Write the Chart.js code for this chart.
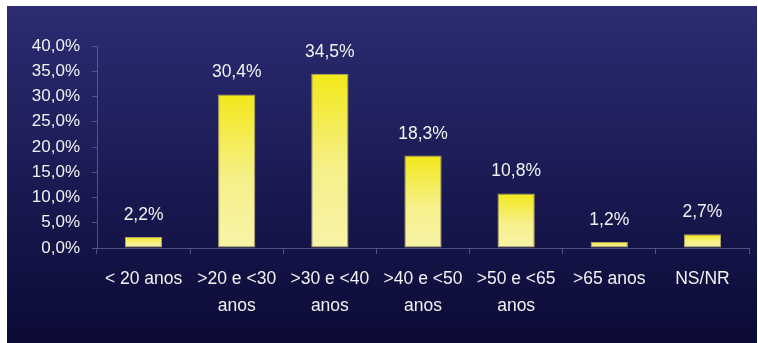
<!DOCTYPE html>
<html>
<head>
<meta charset="utf-8">
<script src="https://cdn.jsdelivr.net/npm/chart.js@4/dist/chart.umd.min.js"></script>
<style>
html,body{margin:0;padding:0;background:#fff;}
#wrap{width:758px;height:343px;position:relative;}
</style>
</head>
<body>
<div id="wrap"><canvas id="c" width="758" height="343"></canvas></div>
<script>
const categories = [["< 20 anos"], [">20 e <30", "anos"], [">30 e <40", "anos"], [">40 e <50", "anos"], [">50 e <65", "anos"], [">65 anos"], ["NS/NR"]];
const values = [2.2, 30.4, 34.5, 18.3, 10.8, 1.2, 2.7];
const yTicks = [0, 5, 10, 15, 20, 25, 30, 35, 40];

const FONT = "'Liberation Sans', Arial, sans-serif";
const fmt = v => v.toFixed(1).replace('.', ',') + '%';

const bgPlugin = {
  id: 'bg',
  beforeDraw(chart) {
    const ctx = chart.ctx;
    ctx.save();
    ctx.fillStyle = '#ffffff';
    ctx.fillRect(0, 0, chart.width, chart.height);
    const g = ctx.createLinearGradient(0, 6, 0, 343);
    g.addColorStop(0, '#2b2c72');
    g.addColorStop(1, '#0b0a36');
    ctx.fillStyle = g;
    ctx.fillRect(7, 6, 750, 337);
    ctx.restore();
  }
};

const labelPlugin = {
  id: 'vlabels',
  afterDatasetsDraw(chart) {
    const ctx = chart.ctx;
    const meta = chart.getDatasetMeta(0);
    ctx.save();
    ctx.font = '17.5px ' + FONT;
    ctx.fillStyle = '#f2f2f2';
    ctx.textAlign = 'center';
    ctx.textBaseline = 'alphabetic';
    meta.data.forEach((bar, i) => {
      ctx.fillText(fmt(values[i]), bar.x, bar.y - 17);
    });
    ctx.restore();
  }
};

new Chart(document.getElementById('c'), {
  type: 'bar',
  data: {
    labels: categories,
    datasets: [{
      data: values,
      backgroundColor(context) {
        const chart = context.chart;
        const ys = chart.scales && chart.scales.y;
        if (!ys || context.dataIndex === undefined) return '#f3e91c';
        const top = ys.getPixelForValue(values[context.dataIndex]);
        const bottom = ys.getPixelForValue(0);
        if (!isFinite(top) || !isFinite(bottom) || bottom - top < 1) return '#f3e91c';
        const g = chart.ctx.createLinearGradient(0, top, 0, bottom);
        g.addColorStop(0, '#f3e81a');
        g.addColorStop(0.55, '#f6f08a');
        g.addColorStop(1, '#f8f4a8');
        return g;
      },
      borderColor: 'rgba(190,180,110,0.9)',
      borderWidth: 1,
      borderSkipped: false,
      barPercentage: 0.4,
      categoryPercentage: 1.0
    }]
  },
  options: {
    responsive: false,
    animation: false,
    devicePixelRatio: 1,
    layout: { padding: { left: 0, top: 46, right: 9, bottom: 0 } },
    plugins: { legend: { display: false }, tooltip: { enabled: false } },
    scales: {
      x: {
        grid: { display: true, drawOnChartArea: false, drawTicks: true, tickLength: 6, color: 'rgba(120,120,170,0.6)', offset: true },
        border: { display: true, color: 'rgba(120,120,170,0.6)', width: 1 },
        ticks: { color: '#f2f2f2', font: { family: FONT, size: 17.5, lineHeight: '27px' }, padding: 12, maxRotation: 0, autoSkip: false },
        afterFit(scale) { scale.height = 95; }
      },
      y: {
        min: 0, max: 40,
        afterBuildTicks(scale) { scale.ticks = yTicks.map(v => ({ value: v })); },
        grid: { display: true, drawOnChartArea: false, drawTicks: true, tickLength: 5, color: 'rgba(120,120,170,0.6)' },
        border: { display: true, color: 'rgba(120,120,170,0.6)', width: 1 },
        ticks: { color: '#f2f2f2', font: { family: FONT, size: 17 }, padding: 12, callback: v => fmt(v) },
        afterFit(scale) { scale.width = 97; }
      }
    }
  },
  plugins: [bgPlugin, labelPlugin]
});
</script>
</body>
</html>
